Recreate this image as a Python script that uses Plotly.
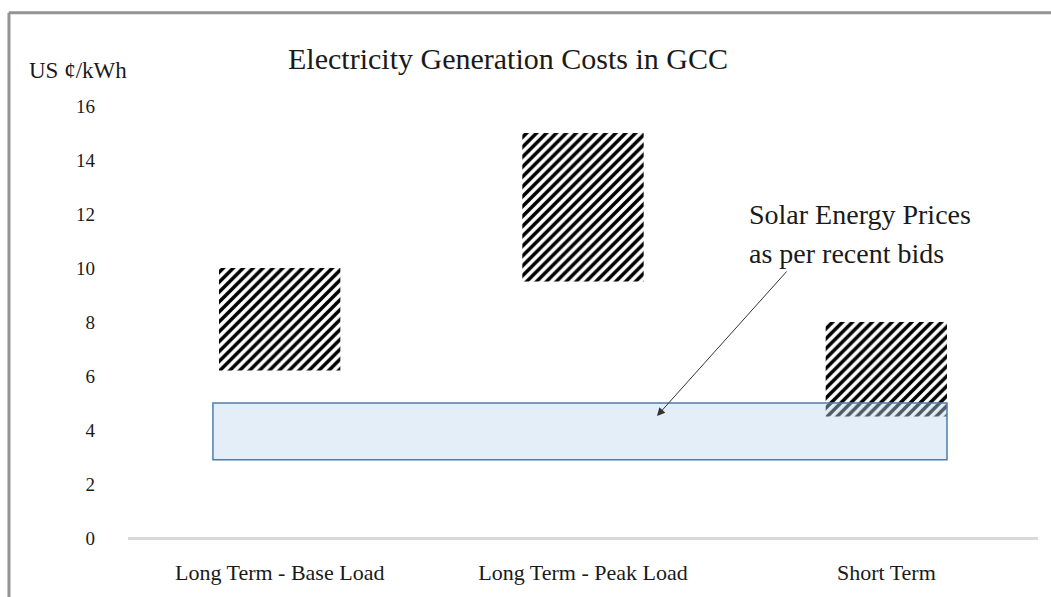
import plotly.graph_objects as go

categories = ["Long Term - Base Load", "Long Term - Peak Load", "Short Term"]
cost_low = [6.2, 9.5, 4.5]
cost_high = [10.0, 15.0, 8.0]
solar_low = 2.9
solar_high = 5.0
solar_x = [-0.22, 2.2]
y_ticks = [0, 2, 4, 6, 8, 10, 12, 14, 16]

FONT = "Liberation Serif, Times New Roman, serif"
TXT = "#1a1a1a"

fig = go.Figure()
fig.add_trace(go.Bar(
    x=categories,
    y=[h - l for h, l in zip(cost_high, cost_low)],
    base=cost_low,
    marker=dict(
        color="white",
        line=dict(width=0),
        pattern=dict(shape="/", fgcolor="black", bgcolor="white", size=7,
                     solidity=0.5, fgopacity=1),
    ),
    width=0.4,
    hoverinfo="skip",
    showlegend=False,
))

# Solar price band
fig.add_shape(type="rect", xref="x", yref="y",
              x0=solar_x[0], x1=solar_x[1], y0=solar_low, y1=solar_high,
              fillcolor="rgba(189,215,238,0.42)",
              line=dict(color="#4F7DA9", width=1.5), layer="above")

# Frame lines (top and left)
fig.add_shape(type="line", xref="paper", yref="paper",
              x0=-0.131, x1=1.02, y0=1.216, y1=1.216,
              line=dict(color="#949494", width=3))
fig.add_shape(type="line", xref="paper", yref="paper",
              x0=-0.1308, x1=-0.1308, y0=1.216, y1=-0.2,
              line=dict(color="#949494", width=3))

# Arrow
fig.add_annotation(x=1.244, y=4.52, xref="x", yref="y", text="",
                   showarrow=True, ax=131, ay=-146, axref="pixel", ayref="pixel",
                   arrowhead=2, arrowsize=1.6, arrowwidth=1, arrowcolor="#333333")

fig.add_annotation(x=(747 - 128) / 910, y=(541 - 215) / 435, xref="paper", yref="paper",
                   text="Solar Energy Prices", showarrow=False,
                   xanchor="left", yanchor="middle",
                   font=dict(family=FONT, size=28, color=TXT))
fig.add_annotation(x=(747 - 128) / 910, y=(541 - 255) / 435, xref="paper", yref="paper",
                   text="as per recent bids", showarrow=False,
                   xanchor="left", yanchor="middle",
                   font=dict(family=FONT, size=28, color=TXT))

fig.add_annotation(x=(27 - 128) / 910, y=(541 - 70) / 435, xref="paper", yref="paper",
                   text="US ¢/kWh", showarrow=False,
                   xanchor="left", yanchor="middle",
                   font=dict(family=FONT, size=23, color=TXT))

fig.update_layout(
    width=1051, height=597,
    margin=dict(l=128, r=13, t=106, b=56),
    paper_bgcolor="white", plot_bgcolor="white",
    title=dict(text="Electricity Generation Costs in GCC",
               x=508 / 1051, xanchor="center", xref="container",
               y=1 - 58 / 597, yanchor="middle", yref="container",
               font=dict(family=FONT, size=30, color=TXT)),
    font=dict(family=FONT, color=TXT),
    bargap=0.6,
    xaxis=dict(showgrid=False, zeroline=False, showline=False,
               tickfont=dict(family=FONT, size=22, color=TXT),
               ticks="", ticklabelstandoff=19, range=[-0.5, 2.5]),
    yaxis=dict(range=[0, 16], tickvals=y_ticks, showgrid=False,
               zeroline=True, zerolinecolor="#D9D9D9", zerolinewidth=3,
               showline=False, ticks="",
               tickfont=dict(family=FONT, size=19, color=TXT),
               ticklabelstandoff=32),
)

fig.write_html("out.html", config={"displayModeBar": False},
               post_script="document.body.style.margin='0px';")
